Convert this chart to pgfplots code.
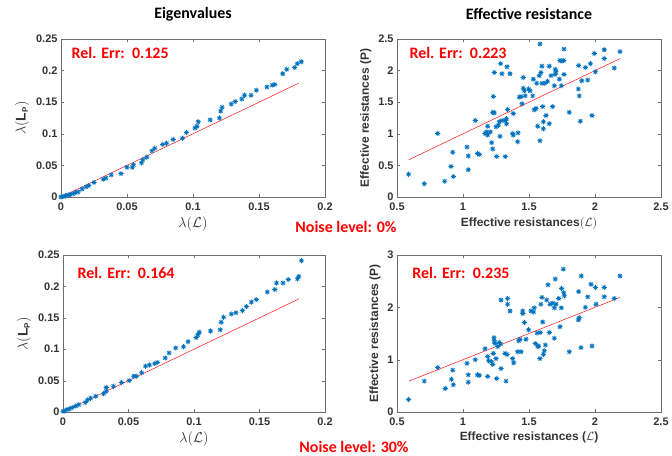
\documentclass[border=0pt]{standalone}
\usepackage{pgfplots}
\pgfplotsset{compat=1.18}
\usepackage{fontspec}
\setmainfont{Liberation Sans}
\newfontfamily\calib{Carlito}
\definecolor{mblue}{RGB}{0,114,189}
\definecolor{axgray}{RGB}{110,110,110}

\pgfdeclareplotmark{ast8}{%
  \pgfpathmoveto{\pgfqpoint{-\pgfplotmarksize}{0pt}}\pgfpathlineto{\pgfqpoint{\pgfplotmarksize}{0pt}}%
  \pgfpathmoveto{\pgfqpoint{0pt}{-\pgfplotmarksize}}\pgfpathlineto{\pgfqpoint{0pt}{\pgfplotmarksize}}%
  \pgfpathmoveto{\pgfqpoint{-0.7\pgfplotmarksize}{-0.7\pgfplotmarksize}}\pgfpathlineto{\pgfqpoint{0.7\pgfplotmarksize}{0.7\pgfplotmarksize}}%
  \pgfpathmoveto{\pgfqpoint{-0.7\pgfplotmarksize}{0.7\pgfplotmarksize}}\pgfpathlineto{\pgfqpoint{0.7\pgfplotmarksize}{-0.7\pgfplotmarksize}}%
  \pgfusepathqstroke}

\tikzset{relerr/.style={anchor=west, text=red, font=\calib\fontsize{16}{18}\selectfont\bfseries}}
\pgfplotsset{myax/.style={
  scale only axis, width=264bp, height=158bp,
  axis line style={axgray}, 
  tick align=inside, tick style={axgray},
  major tick length=3bp,
  tick label style={font=\fontsize{11}{12}\selectfont\bfseries, text=black!80},
  xticklabel style={yshift=-2bp},
  label style={font=\fontsize{12}{13}\selectfont\bfseries, text=black!80},
  title style={font=\calib\fontsize{16}{18}\selectfont\bfseries, at={(0.5,1)}, anchor=center, yshift=19bp},
  /pgf/number format/assume math mode=true,
  scaled ticks=false,
  xticklabel style={/pgf/number format/fixed},
  yticklabel style={/pgf/number format/fixed},
  clip=false,
},
pts/.style={only marks, mark=ast8, mark size=2.6bp, color=mblue, mark options={line width=0.75pt}},
refl/.style={red, line width=0.45pt, no marks},
eiglab/.style={
  xlabel={$\lambda(\mathcal{L})$},
  ylabel={$\lambda(\mbox{\bfseries L}_{\mbox{\bfseries\fontsize{8}{9}\selectfont P}})$},
  label style={font=\fontsize{14}{15}\selectfont\bfseries},
}
}

\begin{document}
\begin{tikzpicture}
\useasboundingbox (0,0) rectangle (672bp,456bp);

% top-left
\begin{axis}[myax, eiglab, at={(61bp,259bp)}, anchor=south west,
  xmin=0, xmax=0.2, ymin=0, ymax=0.25,
  xtick={0,0.05,0.1,0.15,0.2}, ytick={0,0.05,0.1,0.15,0.2,0.25},
  title={Eigenvalues}]
\addplot[pts] coordinates {
(0,0)(0.002,0.001)(0.0035,0.002)(0.0055,0.003)(0.007,0.004)(0.009,0.005)(0.011,0.007)(0.013,0.008)
(0.016,0.0125)(0.019,0.016)(0.021,0.018)(0.025,0.023)(0.032,0.028)(0.034,0.030)(0.038,0.035)
(0.0455,0.037)(0.05,0.047)(0.054,0.047)(0.055,0.051)(0.061,0.054)(0.062,0.059)(0.065,0.063)
(0.069,0.073)(0.071,0.077)(0.077,0.083)(0.080,0.085)(0.085,0.091)(0.092,0.093)(0.095,0.102)
(0.1015,0.109)(0.103,0.112)(0.104,0.119)(0.113,0.122)(0.120,0.125)(0.121,0.136)(0.122,0.142)
(0.129,0.147)(0.132,0.151)(0.137,0.155)(0.139,0.161)(0.144,0.161)(0.148,0.169)(0.156,0.174)
(0.160,0.177)(0.162,0.178)(0.168,0.195)(0.171,0.202)(0.177,0.205)(0.179,0.211)(0.182,0.214)
};
\addplot[refl] coordinates {(0,0)(0.18,0.18)};
\node[relerr] at (rel axis cs:0.027,0.91) {Rel. Err:\ \ 0.125};
\end{axis}

% top-right
\begin{axis}[myax, at={(397bp,259bp)}, anchor=south west,
  xmin=0.5, xmax=2.5, ymin=0, ymax=2.5,
  xtick={0.5,1,1.5,2,2.5}, ytick={0,0.5,1,1.5,2,2.5},
  title={Effective resistance},
  xlabel={Effective resistances$(\mathcal{L})$}, ylabel={Effective resistances (P)}]
\addplot[pts] coordinates {
(0.588,0.36)(0.707,0.21)(0.808,1.005)(0.861,0.25)(0.909,0.484)(0.922,0.708)(0.927,0.323)
(1.030,0.79)(1.040,0.65)(1.040,0.432)(1.093,1.21)(1.109,0.688)(1.124,0.672)(1.167,1.005)
(1.179,1.03)(1.187,1.12)(1.187,0.98)(1.207,1.03)(1.217,0.86)(1.225,0.76)(1.23,1.59)(1.237,1.97)
(1.225,1.34)(1.237,1.33)(1.25,1.11)(1.255,0.64)(1.268,1.135)(1.275,1.19)(1.28,0.96)(1.285,2.11)
(1.295,1.95)(1.295,1.21)(1.32,1.21)(1.32,0.64)(1.33,1.24)(1.33,1.16)(1.333,2.06)(1.338,1.385)
(1.356,1.95)(1.376,1.005)(1.381,0.98)(1.381,1.32)(1.414,0.875)(1.417,1.015)(1.427,1.58)
(1.44,1.59)(1.447,1.474)(1.457,1.72)(1.457,1.89)(1.465,1.68)(1.472,1.60)(1.497,1.71)(1.508,1.68)
(1.528,1.60)(1.533,1.865)(1.54,1.38)(1.553,1.40)(1.558,1.80)(1.566,1.12)(1.578,1.92)(1.583,2.42)
(1.583,0.89)(1.59,1.97)(1.598,2.07)(1.598,1.80)(1.604,1.43)(1.609,1.08)(1.609,1.19)(1.62,1.80)
(1.629,1.29)(1.641,1.83)(1.654,1.16)(1.654,2.07)(1.667,1.92)(1.679,1.43)(1.692,1.76)(1.697,1.94)
(1.699,2.02)(1.705,1.98)(1.73,1.865)(1.735,2.16)(1.745,1.76)(1.750,2.15)(1.763,2.16)(1.765,2.34)
(1.765,1.94)(1.805,1.34)(1.874,1.71)(1.876,2.08)(1.881,1.60)(1.889,1.20)(1.9,1.84)(1.927,2.05)
(1.945,1.85)(1.965,2.11)(1.977,1.29)(1.995,2.27)(2.003,1.98)(2.07,2.33)(2.07,2.19)(2.146,2.04)
(2.189,2.30)
};
\addplot[refl] coordinates {(0.59,0.59)(2.19,2.19)};
\node[relerr] at (rel axis cs:0.034,0.91) {Rel. Err:\ \ 0.223};
\end{axis}

% bottom-left
\begin{axis}[myax, eiglab, at={(63bp,44bp)}, anchor=south west, width=262bp, height=157bp,
  xmin=0, xmax=0.2, ymin=0, ymax=0.25,
  xtick={0,0.05,0.1,0.15,0.2}, ytick={0,0.05,0.1,0.15,0.2,0.25}]
\addplot[pts] coordinates {
(0,0.001)(0.0015,0.002)(0.003,0.004)(0.005,0.005)(0.007,0.007)(0.0097,0.0095)(0.012,0.0117)
(0.017,0.015)(0.0187,0.019)(0.021,0.022)(0.025,0.025)(0.031,0.029)(0.033,0.033)(0.033,0.039)
(0.0386,0.041)(0.0447,0.047)(0.0506,0.05)(0.054,0.057)(0.056,0.057)(0.060,0.0625)(0.063,0.073)
(0.066,0.075)(0.070,0.077)(0.072,0.079)(0.078,0.086)(0.081,0.094)(0.086,0.102)(0.092,0.104)
(0.0955,0.112)(0.1017,0.1186)(0.103,0.123)(0.104,0.127)(0.1126,0.129)(0.120,0.131)(0.1208,0.143)
(0.1226,0.151)(0.1285,0.156)(0.132,0.158)(0.137,0.1615)(0.140,0.168)(0.1438,0.175)(0.1476,0.179)
(0.156,0.191)(0.1617,0.195)(0.163,0.2055)(0.168,0.2055)(0.172,0.211)(0.179,0.212)(0.180,0.216)
(0.182,0.241)
};
\addplot[refl] coordinates {(0,0)(0.18,0.18)};
\node[relerr] at (rel axis cs:0.042,0.885) {Rel. Err:\ \ 0.164};
\end{axis}

% bottom-right
\begin{axis}[myax, at={(397bp,44bp)}, anchor=south west, height=157bp,
  xmin=0.5, xmax=2.5, ymin=0, ymax=3,
  xtick={0.5,1,1.5,2,2.5}, ytick={0,1,2,3},
  xlabel={Effective resistances ($\mathcal{L}$)}, ylabel={Effective resistances (P)}]
\addplot[pts] coordinates {
(0.588,0.24)(0.707,0.59)(0.808,0.85)(0.866,0.45)(0.912,0.625)(0.922,0.80)(0.927,0.52)
(1.03,0.93)(1.04,0.71)(1.04,0.57)(1.093,1.0)(1.109,0.71)(1.124,0.70)(1.167,1.21)(1.187,0.68)
(1.187,1.06)(1.194,0.98)(1.215,0.96)(1.225,0.91)(1.23,1.12)(1.235,1.42)(1.237,1.36)(1.242,1.31)
(1.25,1.02)(1.255,0.64)(1.263,1.25)(1.275,1.33)(1.285,1.30)(1.288,2.14)(1.288,0.83)(1.318,1.12)
(1.326,0.59)(1.333,1.10)(1.338,2.17)(1.338,2.06)(1.356,1.93)(1.376,1.02)(1.384,0.94)(1.414,1.15)
(1.422,1.36)(1.432,1.39)(1.44,1.15)(1.452,1.93)(1.452,1.88)(1.465,1.71)(1.477,1.39)(1.497,1.57)
(1.515,1.93)(1.535,1.91)(1.54,1.99)(1.548,1.31)(1.561,1.51)(1.566,1.26)(1.573,1.25)(1.583,1.02)
(1.586,1.52)(1.59,2.06)(1.598,2.19)(1.604,1.72)(1.609,1.10)(1.616,1.17)(1.624,1.28)(1.634,2.14)
(1.644,2.43)(1.654,1.52)(1.659,2.06)(1.679,2.08)(1.692,1.41)(1.692,1.99)(1.699,2.54)(1.705,2.06)
(1.725,2.17)(1.735,1.63)(1.745,1.99)(1.747,2.36)(1.76,2.73)(1.763,2.28)(1.768,2.22)(1.805,1.15)
(1.874,1.76)(1.876,2.30)(1.881,1.80)(1.894,1.23)(1.896,2.60)(1.927,2.0)(1.945,2.20)(1.97,2.44)
(1.977,1.26)(2.003,2.38)(2.008,2.06)(2.07,2.38)(2.07,2.20)(2.146,2.17)(2.189,2.60)
};
\addplot[refl] coordinates {(0.59,0.59)(2.19,2.19)};
\node[relerr] at (rel axis cs:0.045,0.885) {Rel. Err:\ \ 0.235};
\end{axis}

\node[text=red, font=\calib\fontsize{16}{18}\selectfont\bfseries] at (346bp,229bp) {Noise level: 0\%};
\node[text=red, font=\calib\fontsize{16}{18}\selectfont\bfseries] at (354bp,9bp) {Noise level: 30\%};
\end{tikzpicture}
\end{document}
